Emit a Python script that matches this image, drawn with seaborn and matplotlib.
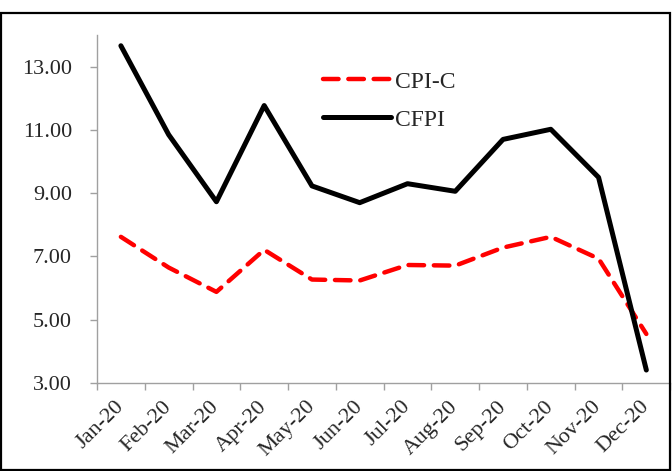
import numpy as np
import pandas as pd
import seaborn as sns
import matplotlib.pyplot as plt
from matplotlib.patches import Rectangle

months = ['Jan-20', 'Feb-20', 'Mar-20', 'Apr-20', 'May-20', 'Jun-20',
          'Jul-20', 'Aug-20', 'Sep-20', 'Oct-20', 'Nov-20', 'Dec-20']
cpi_c = [7.62, 6.65, 5.88, 7.21, 6.27, 6.24, 6.73, 6.71, 7.28, 7.62, 6.93, 4.55]
cfpi = [13.66, 10.85, 8.73, 11.77, 9.23, 8.70, 9.30, 9.06, 10.70, 11.02, 9.50, 3.41]
yticks = [3, 5, 7, 9, 11, 13]

sns.set_theme(style='white')
plt.rcParams['font.family'] = ['Liberation Serif', 'DejaVu Serif']

fig = plt.figure(figsize=(6.72, 4.71), dpi=100)
ax = fig.add_axes([97 / 672, 88 / 471, 0.853, 348 / 471])

x = np.arange(len(months))
sns.lineplot(x=x, y=cpi_c, ax=ax, color='#ff0000', linewidth=3.2,
             label='CPI-C', dashes=False)
sns.lineplot(x=x, y=cfpi, ax=ax, color='black', linewidth=3.6,
             label='CFPI', dashes=False)
ax.lines[0].set_dashes([3.5, 2.2])
ax.lines[0].set_dash_capstyle('round')

ax.set_xlim(-0.5, len(months) - 0.5)
ax.set_ylim(3, 14)
ax.set_yticks(yticks)
ax.set_yticklabels([f'{v:.2f}' for v in yticks])
ax.set_xticks(x)
ax.set_xticklabels(months, rotation=45, ha='right', va='center',
                   rotation_mode='anchor')
ax.set_xticks(np.arange(len(months) + 1) - 0.5, minor=True)
ax.tick_params(axis='x', which='major', length=0, pad=15, labelsize=16)
ax.tick_params(axis='x', which='minor', length=5, width=1, color='#a0a0a0',
               direction='out', bottom=True)
ax.tick_params(axis='y', length=5, width=1, color='#a0a0a0', direction='out',
               left=True, pad=13, labelsize=16)

for s in ['top', 'right']:
    ax.spines[s].set_visible(False)
for s in ['left', 'bottom']:
    ax.spines[s].set_color('#a0a0a0')
    ax.spines[s].set_linewidth(1)

leg = ax.legend(loc='upper left', bbox_to_anchor=(323 / 672, 1 - 71 / 471),
                bbox_transform=fig.transFigure, frameon=False, fontsize=17,
                handlelength=2.9, handletextpad=0.15, labelspacing=0.7,
                borderaxespad=0, borderpad=0)

fig.patches.append(Rectangle((0.002, 0.003), 0.995, 0.969,
                             transform=fig.transFigure, fill=False,
                             edgecolor='black', linewidth=1.6))

fig.savefig('out.png', dpi=100)
